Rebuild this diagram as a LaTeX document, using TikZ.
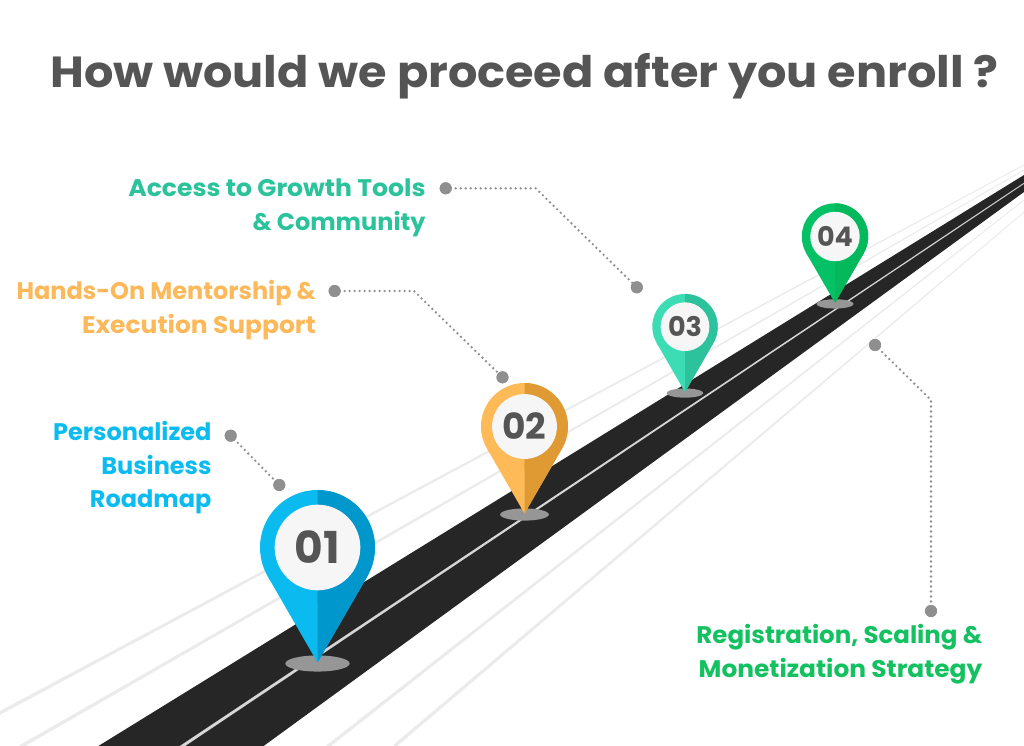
\documentclass[tikz,border=0pt]{standalone}
\usepackage{fontspec}
\setmainfont{Poppins}
\usetikzlibrary{calc}
\definecolor{roadc}{HTML}{262626}
\definecolor{centerc}{HTML}{D6D6D6}
\definecolor{guidec}{HTML}{EBEBEB}
\definecolor{shadowc}{HTML}{969696}
\definecolor{innerc}{HTML}{F6F6F6}
\definecolor{numc}{HTML}{555555}
\definecolor{titlec}{HTML}{555555}
\definecolor{dotc}{HTML}{8F8F8F}
\definecolor{blueL}{HTML}{0BBBEF}
\definecolor{blueD}{HTML}{0097CC}
\definecolor{orangeL}{HTML}{FDBA57}
\definecolor{orangeD}{HTML}{E09A33}
\definecolor{mintL}{HTML}{3CDCB4}
\definecolor{mintD}{HTML}{2CC29C}
\definecolor{greenL}{HTML}{05C165}
\definecolor{greenD}{HTML}{03B95C}
\definecolor{txtblue}{HTML}{0CBCF0}
\definecolor{txtorange}{HTML}{FDB959}
\definecolor{txtmint}{HTML}{2AC39B}
\definecolor{txtgreen}{HTML}{13C160}
\newcommand\taper[5]{%
  \fill[#1] ($(#2)!#4!90:(#3)$) -- ($(#3)!#5!-90:(#2)$) -- ($(#3)!#5!90:(#2)$) -- ($(#2)!#4!-90:(#3)$) -- cycle;}
\newcommand\mypin[8]{% name, cx, cy, r, light, dark, text, fontsize
  \fill[shadowc] (#2,{#3+2*#4+1}) ellipse [x radius={0.56*#4}, y radius={0.14*#4}];
  \fill[#5] (#2,#3) circle [radius=#4];
  \fill[#5] (#2,{#3+2*#4}) -- ({#2-0.866*#4},{#3+0.5*#4}) -- ({#2+0.866*#4},{#3+0.5*#4}) -- cycle;
  \begin{scope}
    \clip (#2,{#3-#4-2}) rectangle ({#2+#4+2},{#3+2*#4+2});
    \fill[#6] (#2,#3) circle [radius=#4];
    \fill[#6] (#2,{#3+2*#4}) -- ({#2-0.866*#4},{#3+0.5*#4}) -- ({#2+0.866*#4},{#3+0.5*#4}) -- cycle;
  \end{scope}
  \fill[innerc] (#2,#3) circle [radius={0.745*#4}];
  \node[numtext, font=\bfseries\fontsize{#8}{#8}\selectfont] (#1) at (#2,#3) {#7};
}
\tikzset{
  numtext/.style={inner sep=0pt, text=numc},
  lbl/.style={inner sep=0pt, anchor=base east, font=\bfseries\fontsize{24}{28}\selectfont},
  dotnode/.style={circle, fill=dotc, minimum size=12pt, inner sep=0pt},
  dotline/.style={draw=dotc, line width=2.6pt, line cap=round, dash pattern=on 0pt off 5pt},
}
\begin{document}
\begin{tikzpicture}[x=1pt,y=-1pt]
\useasboundingbox (0,0) rectangle (1024,745);
\fill[white] (0,0) rectangle (1024,745);
\clip (0,0) rectangle (1024,745);
% guide lines
\taper{guidec}{-60,745}{1024,165}{1.7pt}{0.4pt}
\taper{guidec}{20,747}{1024,170}{1.7pt}{0.4pt}
\taper{guidec}{327,747}{1024,200}{1.7pt}{0.4pt}
\taper{guidec}{394.6,746}{1024,212}{1.7pt}{0.4pt}
% road
\fill[roadc] (91.9,750) -- (1030,171.3) -- (1030,187.6) -- (258.1,750) -- cycle;
\taper{centerc}{176.5,750}{1024,183.3}{1.5pt}{0.45pt}
% pins
\mypin{p4}{835}{236.5}{33.2}{greenL}{greenD}{04}{27}
\mypin{p3}{685}{326.7}{32.7}{mintL}{mintD}{03}{27}
\mypin{p2}{524.5}{426.5}{43.5}{orangeL}{orangeD}{02}{36}
\mypin{p1}{317.5}{547.5}{57.5}{blueL}{blueD}{01}{44}
% connectors
\coordinate (b1) at (535.7,188.3);
\coordinate (b2) at (414,291);
\coordinate (b4) at (931,400);
\node[dotnode] (d1a) at (445.7,188.3) {};
\node[dotnode] (d1b) at (636.8,287.3) {};
\node[dotnode] (d2a) at (334.6,291) {};
\node[dotnode] (d2b) at (502.5,377.3) {};
\node[dotnode] (d3a) at (230.7,435.7) {};
\node[dotnode] (d3b) at (279.3,485) {};
\node[dotnode] (d4a) at (875,345) {};
\node[dotnode] (d4b) at (931,611) {};
\draw[dotline] (d1a.center) -- (b1) -- (d1b.center);
\draw[dotline] (d2a.center) -- (b2) -- (d2b.center);
\draw[dotline] (d3a.center) -- (d3b.center);
\draw[dotline] (d4a.center) -- (b4) -- (d4b.center);
\foreach \n in {d1a,d1b,d2a,d2b,d3a,d3b,d4a,d4b} \fill[dotc] (\n) circle [radius=6];
% title
\node[inner sep=0pt, anchor=base, text=titlec, font=\bfseries\fontsize{43.5}{48}\selectfont] (title) at (524.5,87.7) {\scalebox{1.062}[1]{How would we proceed after you enroll ?}};
% labels
\node[lbl, text=txtmint] (l1a) at (425.7,196.7) {\scalebox{1.045}[1]{Access to Growth Tools}};
\node[lbl, text=txtmint] (l1b) at (425.7,230) {\& Community};
\node[lbl, text=txtorange] (l2a) at (316,299.3) {Hands-On Mentorship \&};
\node[lbl, text=txtorange] (l2b) at (316,333) {\scalebox{1.04}[1]{Execution Support}};
\node[lbl, text=txtblue] (l3a) at (211.7,440.7) {Personalized};
\node[lbl, text=txtblue] (l3b) at (211.7,474) {Business};
\node[lbl, text=txtblue] (l3c) at (211.7,507.3) {Roadmap};
\node[lbl, text=txtgreen] (l4a) at (982.5,643.5) {\scalebox{1.02}[1]{Registration, Scaling \&}};
\node[lbl, text=txtgreen] (l4b) at (982.5,677) {\scalebox{1.036}[1]{Monetization Strategy}};
\end{tikzpicture}
\end{document}
